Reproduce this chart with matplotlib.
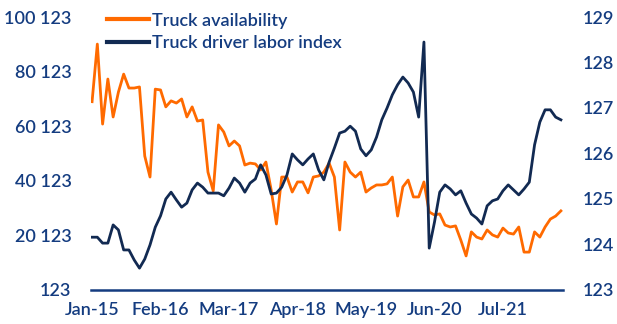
import numpy as np
import matplotlib
matplotlib.use("Agg")
import matplotlib.pyplot as plt
from matplotlib.ticker import FuncFormatter

# monthly, Jan-15 .. Jun-22
tick_labels = ['Jan-15', 'Feb-16', 'Mar-17', 'Apr-18', 'May-19', 'Jun-20', 'Jul-21']

truck_availability = [
    69100, 90200, 60900, 77400, 63500, 72600, 79200, 74100, 74100, 74500,
    49200, 41500, 73700, 73400, 67200, 69400, 68600, 70100, 63500, 67200,
    62000, 62400, 43300, 36400, 60600, 58000, 52900, 54700, 52900, 45900,
    46600, 46300, 44100, 47000, 36800, 24300, 41500, 41500, 36000, 39700,
    39700, 35700, 41500, 41900, 43300, 46600, 41500, 22100, 47000, 43300,
    41500, 43300, 36000, 37500, 38600, 38600, 39000, 41500, 27200, 37900,
    40400, 34200, 34200, 39700, 28700, 27600, 28000, 23900, 23200, 23600,
    18400, 12600, 21400, 19500, 18800, 22100, 20300, 19500, 22800, 21000,
    20600, 23200, 14000, 14000, 21400, 19500, 23200, 26100, 27200, 29100,
]

driver_labor_index = [
    124.16, 124.16, 124.03, 124.03, 124.43, 124.32, 123.88, 123.88, 123.66, 123.48,
    123.68, 123.99, 124.38, 124.63, 125.00, 125.15, 124.98, 124.82, 124.91, 125.20,
    125.35, 125.26, 125.13, 125.13, 125.13, 125.07, 125.24, 125.46, 125.35, 125.15,
    125.35, 125.44, 125.75, 125.53, 125.11, 125.13, 125.26, 125.53, 125.99, 125.86,
    125.75, 125.88, 125.99, 125.64, 125.42, 125.81, 126.12, 126.45, 126.49, 126.60,
    126.49, 126.10, 125.95, 126.08, 126.36, 126.74, 127.00, 127.29, 127.51, 127.68,
    127.55, 127.35, 126.80, 128.45, 123.92, 124.49, 125.15, 125.31, 125.22, 125.09,
    125.18, 124.91, 124.67, 124.58, 124.45, 124.85, 124.96, 125.00, 125.18, 125.31,
    125.20, 125.09, 125.22, 125.37, 126.19, 126.69, 126.96, 126.96, 126.80, 126.74,
]

orange = '#ff6a00'
navy = '#122a52'
blue = '#143c80'

plt.rcParams['font.family'] = ['Lato', 'DejaVu Sans']

months = np.arange(len(truck_availability))

fig = plt.figure(figsize=(6.17, 3.24), dpi=100)
ax = fig.add_axes([0.1475, 0.105, 0.765, 0.8425])
ax2 = ax.twinx()

l1, = ax.plot(months, truck_availability, color=orange, lw=2.0, label='Truck availability')
l2, = ax2.plot(months, driver_labor_index, color=navy, lw=2.0, label='Truck driver labor index')

ax.set_xlim(-0.2, 89.4)
ax.set_ylim(123, 100123)
ax.set_yticks(123 + 20000 * np.arange(6))
ax.yaxis.set_major_formatter(FuncFormatter(lambda v, p: f'{v:,.0f}'.replace(',', ' ')))
ax2.set_ylim(123, 129)
ax2.set_yticks(np.arange(123, 130))

ax.set_xticks(np.arange(0, 90, 13))
ax.set_xticklabels(tick_labels)

for a in (ax, ax2):
    for s in a.spines.values():
        s.set_visible(False)
    a.tick_params(length=0, labelsize=13, labelcolor=blue)
ax.spines['bottom'].set_visible(True)
ax.spines['bottom'].set_color(blue)
ax.spines['bottom'].set_linewidth(1.8)
ax.tick_params(axis='y', pad=14)
ax.tick_params(axis='x', pad=9)
ax2.tick_params(axis='y', pad=14)
for t in ax.get_xticklabels() + ax.get_yticklabels() + ax2.get_yticklabels():
    t.set_fontweight('semibold')

leg = ax.legend(handles=[l1, l2], loc='upper left', bbox_to_anchor=(0.0, 1.075),
                frameon=False, fontsize=13, handlelength=2.3, labelspacing=0.35,
                handletextpad=0.2)
for t in leg.get_texts():
    t.set_color(blue)
    t.set_fontweight('semibold')
for h in leg.legend_handles:
    h.set_linewidth(3)

fig.savefig('out.png', dpi=100)
